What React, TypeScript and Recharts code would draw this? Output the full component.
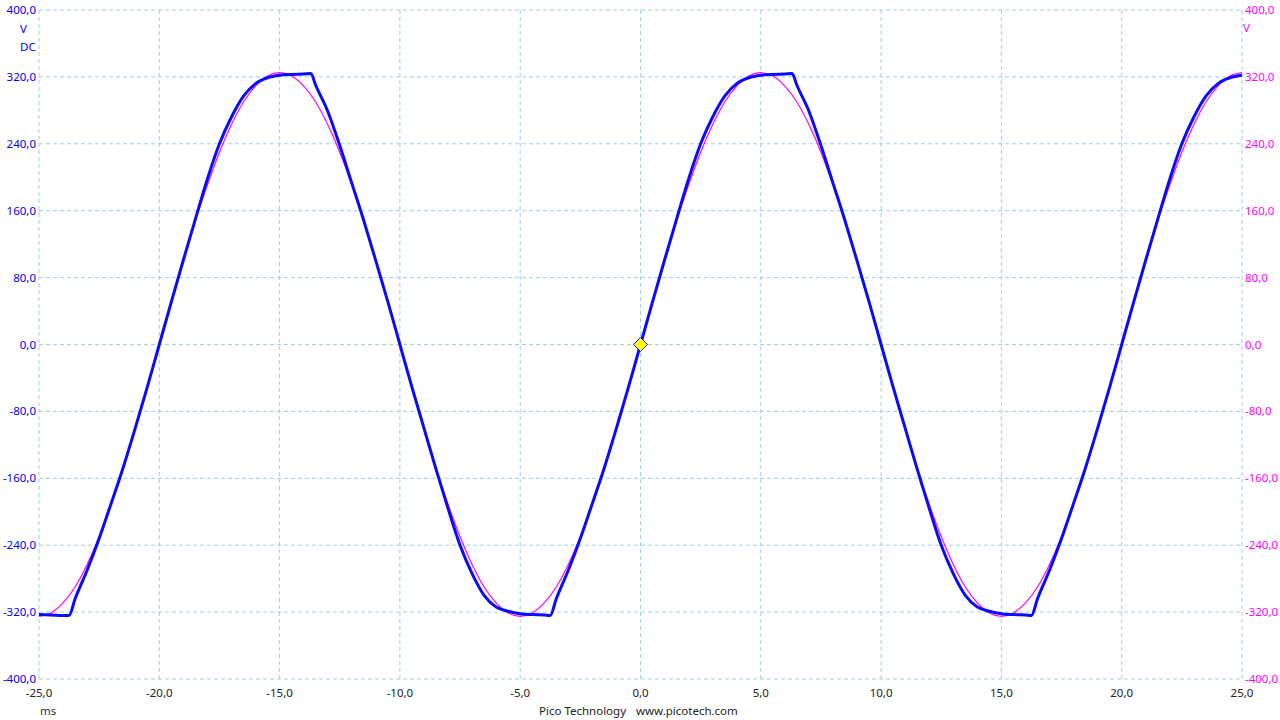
import { LineChart, Line, XAxis, YAxis, CartesianGrid, ReferenceDot } from 'recharts';

// time axis ticks (ms) and voltage ticks (V)
const timeTicks = [-25, -20, -15, -10, -5, 0, 5, 10, 15, 20, 25];
const voltTicks = [-400, -320, -240, -160, -80, 0, 80, 160, 240, 320, 400];

// channel A (blue, flat-topped mains waveform)
const blueTime = [
  -25, -24.5, -24, -23.75, -23.5, -23, -22.5, -22, -21.5, -21, -20.5, -20,
  -19.5, -19, -18.5, -18, -17.5, -17, -16.5, -16, -15.5, -15, -14.5, -14, -13.7,
  -13.5, -13, -12.5, -12, -11.5, -11, -10.5, -10, -9.5, -9, -8.5, -8, -7.5, -7,
  -6.5, -6, -5.5, -5, -4.5, -4, -3.75, -3.5, -3, -2.5, -2, -1.5, -1, -0.5, 0,
  0.5, 1, 1.5, 2, 2.5, 3, 3.5, 4, 4.5, 5, 5.5, 6, 6.3, 6.5, 7, 7.5, 8, 8.5, 9,
  9.5, 10, 10.5, 11, 11.5, 12, 12.5, 13, 13.5, 14, 14.5, 15, 15.5, 16, 16.25,
  16.5, 17, 17.5, 18, 18.5, 19, 19.5, 20, 20.5, 21, 21.5, 22, 22.5, 23, 23.5,
  24, 24.5, 25,
];
const blueVolt = [
  -323, -323.5, -324, -324, -304, -270, -232, -190, -147, -100, -51, 0,
  51, 101, 150, 198, 240, 272, 297, 312, 319, 322, 323, 323.5, 324,
  310, 279, 238, 193, 148, 100, 51, 0, -51, -100, -149, -196, -240, -274,
  -300, -314, -319, -322, -323, -323.5, -324, -304, -270, -232, -190, -147, -100, -51, 0,
  51, 101, 150, 198, 240, 272, 297, 312, 319, 322, 323, 323.5, 324, 310, 279, 238, 193, 148, 100,
  51, 0, -51, -100, -149, -196, -240, -274, -300, -314, -319, -322, -323, -323.5, -324,
  -304, -270, -232, -190, -147, -100, -51, 0, 51, 101, 150, 198, 240, 272, 297,
  312, 319, 322,
];

// channel B (magenta, reference sine) sampled every 0.5 ms
const magentaTime = [
  -25, -24.5, -24, -23.5, -23, -22.5, -22, -21.5, -21, -20.5, -20, -19.5, -19,
  -18.5, -18, -17.5, -17, -16.5, -16, -15.5, -15, -14.5, -14, -13.5, -13, -12.5,
  -12, -11.5, -11, -10.5, -10, -9.5, -9, -8.5, -8, -7.5, -7, -6.5, -6, -5.5, -5,
  -4.5, -4, -3.5, -3, -2.5, -2, -1.5, -1, -0.5, 0, 0.5, 1, 1.5, 2, 2.5, 3, 3.5,
  4, 4.5, 5, 5.5, 6, 6.5, 7, 7.5, 8, 8.5, 9, 9.5, 10, 10.5, 11, 11.5, 12, 12.5,
  13, 13.5, 14, 14.5, 15, 15.5, 16, 16.5, 17, 17.5, 18, 18.5, 19, 19.5, 20, 20.5,
  21, 21.5, 22, 22.5, 23, 23.5, 24, 24.5, 25,
];
const magentaVolt = [
  -325, -321, -309, -290, -263, -230, -191, -148, -100, -51, 0, 51, 100,
  148, 191, 230, 263, 290, 309, 321, 325, 321, 309, 290, 263, 230,
  191, 148, 100, 51, 0, -51, -100, -148, -191, -230, -263, -290, -309, -321, -325,
  -321, -309, -290, -263, -230, -191, -148, -100, -51, 0, 51, 100, 148, 191, 230, 263, 290,
  309, 321, 325, 321, 309, 290, 263, 230, 191, 148, 100, 51, 0, -51, -100, -148, -191, -230,
  -263, -290, -309, -321, -325, -321, -309, -290, -263, -230, -191, -148, -100, -51, 0, 51,
  100, 148, 191, 230, 263, 290, 309, 321, 325,
];

const blueData = blueTime.map((t, i) => ({ t, v: blueVolt[i] }));
const magentaData = magentaTime.map((t, i) => ({ t, v: magentaVolt[i] }));

const FONT = '"Noto Sans", "Open Sans", sans-serif';
const fmt = (v: number) => v.toFixed(1).replace('.', ',');

const Diamond = (props: any) => {
  const { cx, cy } = props;
  if (cx == null || cy == null) return null;
  const r = 7;
  return (
    <polygon
      points={`${cx},${cy - r} ${cx + r},${cy} ${cx},${cy + r} ${cx - r},${cy}`}
      fill="#ffff00"
      stroke="#1a1acc"
      strokeWidth={1}
    />
  );
};

export default function App() {
  return (
    <div style={{ position: 'absolute', left: 0, top: 0, width: 1280, height: 720, background: '#fff' }}>
      <LineChart width={1280} height={720} margin={{ top: 10, right: 0, bottom: 0, left: 0 }}>
        <CartesianGrid yAxisId="left" stroke="#9dd2de" strokeDasharray="4 3" />
        <XAxis
          dataKey="t"
          type="number"
          domain={[-25, 25]}
          ticks={timeTicks}
          interval={0}
          height={41}
          tickSize={0}
          tickMargin={10}
          axisLine={false}
          tickFormatter={fmt}
          tick={{ fill: '#222', fontSize: 11.5, fontFamily: FONT }}
          allowDataOverflow
        />
        <YAxis
          yAxisId="left"
          orientation="left"
          type="number"
          domain={[-400, 400]}
          ticks={voltTicks}
          interval={0}
          width={39}
          tickSize={0}
          tickMargin={3}
          axisLine={false}
          tickFormatter={fmt}
          tick={{ fill: '#0000ff', fontSize: 11.5, fontFamily: FONT }}
          allowDataOverflow
        />
        <YAxis
          yAxisId="right"
          orientation="right"
          type="number"
          domain={[-400, 400]}
          ticks={voltTicks}
          interval={0}
          width={38}
          tickSize={0}
          tickMargin={3}
          axisLine={false}
          tickFormatter={fmt}
          tick={{ fill: '#ff00ff', fontSize: 11.5, fontFamily: FONT }}
          allowDataOverflow
        />
        <Line
          yAxisId="left"
          data={magentaData}
          dataKey="v"
          type="monotone"
          stroke="#ff00ff"
          strokeWidth={1.2}
          dot={false}
          isAnimationActive={false}
        />
        <Line
          yAxisId="left"
          data={blueData}
          dataKey="v"
          type="monotone"
          stroke="#0a0aff"
          strokeWidth={3}
          dot={false}
          isAnimationActive={false}
        />
        <ReferenceDot yAxisId="left" x={0} y={0} r={7} shape={Diamond} />
      </LineChart>
      <svg
        width={1280}
        height={720}
        style={{ position: 'absolute', left: 0, top: 0, pointerEvents: 'none' }}
        fontFamily={FONT}
        fontSize={11.5}
      >
        <text x={20} y={32.5} fill="#0000ff">V</text>
        <text x={20} y={50.5} fill="#0000ff">DC</text>
        <text x={1243} y={31.5} fill="#ff00ff">V</text>
        <text x={40} y={715} fill="#333">ms</text>
        <text x={539} y={715} fill="#222">Pico Technology</text>
        <text x={636} y={715} fill="#222">www.picotech.com</text>
      </svg>
    </div>
  );
}
